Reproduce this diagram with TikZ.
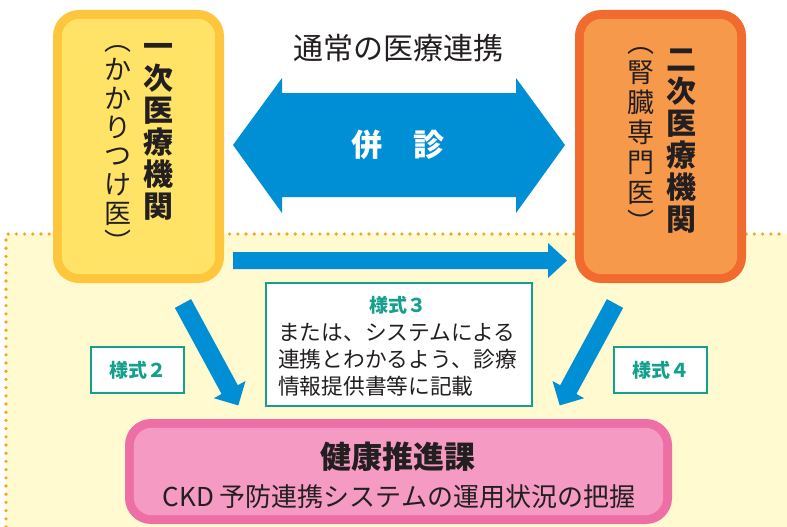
\documentclass[tikz,border=0pt]{standalone}
\usepackage{fontspec}
\setmainfont{Noto Sans CJK JP}
\usetikzlibrary{calc}
\definecolor{cream}{HTML}{FFFACF}
\definecolor{dotc}{HTML}{F6A623}
\definecolor{arrowblue}{HTML}{008FD4}
\definecolor{formteal}{HTML}{14A08C}
\definecolor{ink}{HTML}{231F20}
\definecolor{yout}{HTML}{FDC63C}
\definecolor{yin}{HTML}{FFE366}
\definecolor{oout}{HTML}{F26B2E}
\definecolor{oin}{HTML}{F7994A}
\definecolor{pout}{HTML}{EE6FA6}
\definecolor{pinkin}{HTML}{F59BC3}
\tikzset{
  outerbox/.style={rounded corners=26pt, inner sep=0pt},
  formbox/.style={draw=formteal, line width=2.5pt, fill=white, inner sep=0pt},
  formlabel/.style={text=formteal, font=\bfseries\fontsize{19}{22}\selectfont},
  vbold/.style={text=ink, align=center, inner sep=0pt, font=\bfseries\fontsize{30}{32}\selectfont},
  vreg/.style={text=ink, align=center, inner sep=0pt},
  blockarrow/.style={fill=arrowblue},
}
\begin{document}
\begin{tikzpicture}[x=1pt,y=-1pt]
\useasboundingbox (0,0) rectangle (787,527);
\fill[white] (0,0) rectangle (787,527);
% background region
\fill[cream] (6,234) rectangle (787,527);
\draw[dotc, line width=3.6pt, line cap=round, dash pattern=on 0pt off 8.2pt] (6,527) -- (6,234) -- (787,234);

% boxes
\node[outerbox, fill=yout, minimum width=171pt, minimum height=273pt] (prim) at (138.5,146.5) {};
\fill[yin, rounded corners=18pt] ($(prim.north west)+(9,9)$) rectangle ($(prim.south east)+(-9,-9)$);
\node[outerbox, fill=oout, minimum width=171pt, minimum height=273pt] (sec) at (660.5,146.5) {};
\fill[oin, rounded corners=18pt] ($(sec.north west)+(9,9)$) rectangle ($(sec.south east)+(-9,-9)$);
\node[outerbox, fill=pout, minimum width=547pt, minimum height=105pt] (dept) at (398.5,471.5) {};
\fill[pinkin, rounded corners=18pt] ($(dept.north west)+(9,9)$) rectangle ($(dept.south east)+(-9,-9)$);

% vertical texts
\node[vbold] (primt) at (158,132) {一\\次\\医\\療\\機\\関};
\node[vreg, font=\fontsize{27}{28.8}\selectfont] (primp) at (118,149) {︵\\か\\か\\り\\つ\\け\\医\\︶};
\node[vbold] (sect) at (681,141.5) {二\\次\\医\\療\\機\\関};
\node[vreg, font=\fontsize{27}{30}\selectfont] (secp) at (641,140) {︵\\腎\\臓\\専\\門\\医\\︶};

% title
\node[text=ink, font=\fontsize{30}{34}\selectfont] (title) at (398,48) {通常の医療連携};

% double arrow
\fill[blockarrow] (233,145) -- (282,78) -- (282,93) -- (516,93) -- (516,78) -- (565,145) -- (516,213) -- (516,197) -- (282,197) -- (282,213) -- cycle;
\node[text=white, font=\bfseries\fontsize{31}{34}\selectfont] (heishin) at (398,145) {併　診};

% horizontal arrow
\fill[blockarrow] (233,252) -- (548,252) -- (548,243) -- (567,260.5) -- (548,278) -- (548,269) -- (233,269) -- cycle;

% diagonal arrows
\fill[blockarrow] (174.9,307.9) -- (191.1,299.1) -- (237.8,385.2) -- (245.5,381.0) -- (238.3,405.4) -- (213.9,398.2) -- (221.6,394.0) -- cycle;
\fill[blockarrow] (623.1,307.9) -- (606.9,299.1) -- (560.2,385.2) -- (552.5,381.0) -- (559.7,405.4) -- (584.1,398.2) -- (576.4,394.0) -- cycle;

% form boxes
\node[formbox, minimum width=266pt, minimum height=123pt] (form3) at (399,344.5) {};
\node[formlabel] (form3t) at (398,305) {様式３};
\node[text=ink, align=left, inner sep=0pt, anchor=west, font=\fontsize{21.7}{27}\selectfont] (form3b) at (278,360) {または、システムによる\\連携とわかるよう、診療\\情報提供書等に記載};
\node[formbox, minimum width=93pt, minimum height=46pt] (form2) at (137.5,370) {};
\node[formlabel] at (form2.center) {様式２};
\node[formbox, minimum width=93pt, minimum height=46pt] (form4) at (660.5,370) {};
\node[formlabel] at (form4.center) {様式４};

% pink texts
\node[text=ink, font=\bfseries\fontsize{31}{34}\selectfont] (deptt) at (398,457) {健康推進課};
\node[text=ink, font=\fontsize{26}{30}\selectfont] (deptb) at (399,497) {CKD 予防連携システムの運用状況の把握};
\end{tikzpicture}
\end{document}
